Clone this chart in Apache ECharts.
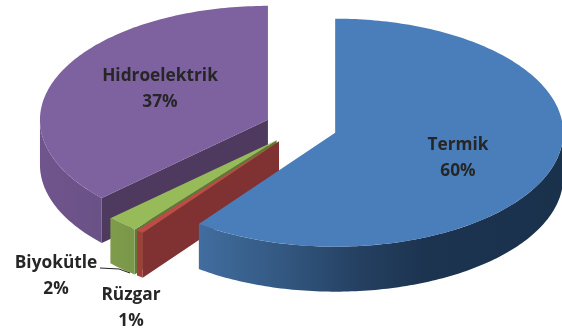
<!DOCTYPE html>
<html><head><meta charset="utf-8">
<style>html,body{margin:0;padding:0;background:#fff}#c{width:562px;height:330px}</style>
<script src="https://cdn.jsdelivr.net/npm/echarts@6/dist/echarts.min.js"></script></head>
<body><div id="c"></div>
<script>
const categories = ['Termik','Rüzgar','Biyokütle','Hidroelektrik'];
const values = [60.2,0.5,2.3,37];
const percentLabels = ['60%','1%','2%','37%'];

const total = values.reduce((a,b)=>a+b,0);
const CX=301, CY=127, RX=228, RY=114, DEPTH=45, EXPLODE=36;
const FONT='"Open Sans"';
const styles = [
 {top:'#4a7ebb', face:'#1b324e', wall:[[0,'#416d9f'],[0.2,'#355b85'],[0.45,'#243f60'],[0.62,'#1c3450'],[1,'#1a314c']], order:4, lx:458, ly:158},
 {top:'#be4b48', face:'#7f3231', wall:[[0,'#a03e3b'],[1,'#a03e3b']], order:3, lx:131, ly:308},
 {top:'#98bb59', face:'#5f7a35', wall:[[0,'#7f9c4b'],[1,'#7a974a']], order:2, lx:56, ly:276},
 {top:'#7e619f', face:'#4e3a5f', wall:[[0,'#6f558c'],[1,'#6a5186']], order:1, lx:160, ly:89}
];
function pt(ax,ay,deg,dy){const r=deg*Math.PI/180;return [ax+RX*Math.sin(r), ay-RY*Math.cos(r)+(dy||0)];}
function arc(ax,ay,a,b,dy){const out=[];const n=Math.max(2,Math.ceil(Math.abs(b-a)));for(let i=0;i<=n;i++)out.push(pt(ax,ay,a+(b-a)*i/n,dy));return out;}

function renderItem(params,api){
  const i=params.dataIndex, v=api.value(1), s=styles[i];
  let start=0; for(let k=0;k<i;k++) start+=values[k]/total*360;
  const end=start+v/total*360, mid=(start+end)/2*Math.PI/180;
  const ax=CX+EXPLODE*Math.sin(mid), ay=CY-EXPLODE*0.5*Math.cos(mid);
  const z=s.order*10, children=[];
  if(start>90&&start<270){
    const o=pt(ax,ay,start);
    children.push({type:'polygon',z2:z,shape:{points:[[ax,ay],o,[o[0],o[1]+DEPTH],[ax,ay+DEPTH]]},style:{fill:s.face}});
  }
  const wa=Math.max(start,90), wb=Math.min(end,270);
  if(wb>wa){
    const t=arc(ax,ay,wa,wb,0), b=arc(ax,ay,wa,wb,DEPTH).reverse();
    const xs=t.map(p=>p[0]), x0=Math.min(...xs), x1=Math.max(...xs);
    children.push({type:'polygon',z2:z+1,shape:{points:t.concat(b)},style:{fill:{type:'linear',x:x0,y:0,x2:x1,y2:0,global:true,
      colorStops:s.wall.map(c=>({offset:c[0],color:c[1]}))}}});
  }
  children.push({type:'polygon',z2:z+2,shape:{points:[[ax,ay]].concat(arc(ax,ay,start,end,0))},style:{fill:s.top}});
  children.push({type:'text',z2:100,style:{x:s.lx,y:s.ly,text:api.value(2)+'\n'+percentLabels[i],align:'center',verticalAlign:'middle',
    font:'bold 17.3px '+FONT,lineHeight:26,fill:'#262626'}});
  return {type:'group',children};
}
const chart=echarts.init(document.getElementById('c'),null,{renderer:'canvas'});
chart.setOption({
  animation:false,
  series:[{type:'custom',coordinateSystem:'none',renderItem,silent:true,
    data:categories.map((c,i)=>[i,values[i],c])}],
  graphic:[{type:'polyline',z:50,shape:{points:[[100,268],[119,269],[130,273]]},style:{stroke:'#222',lineWidth:1,fill:null}}]
});
</script></body></html>
